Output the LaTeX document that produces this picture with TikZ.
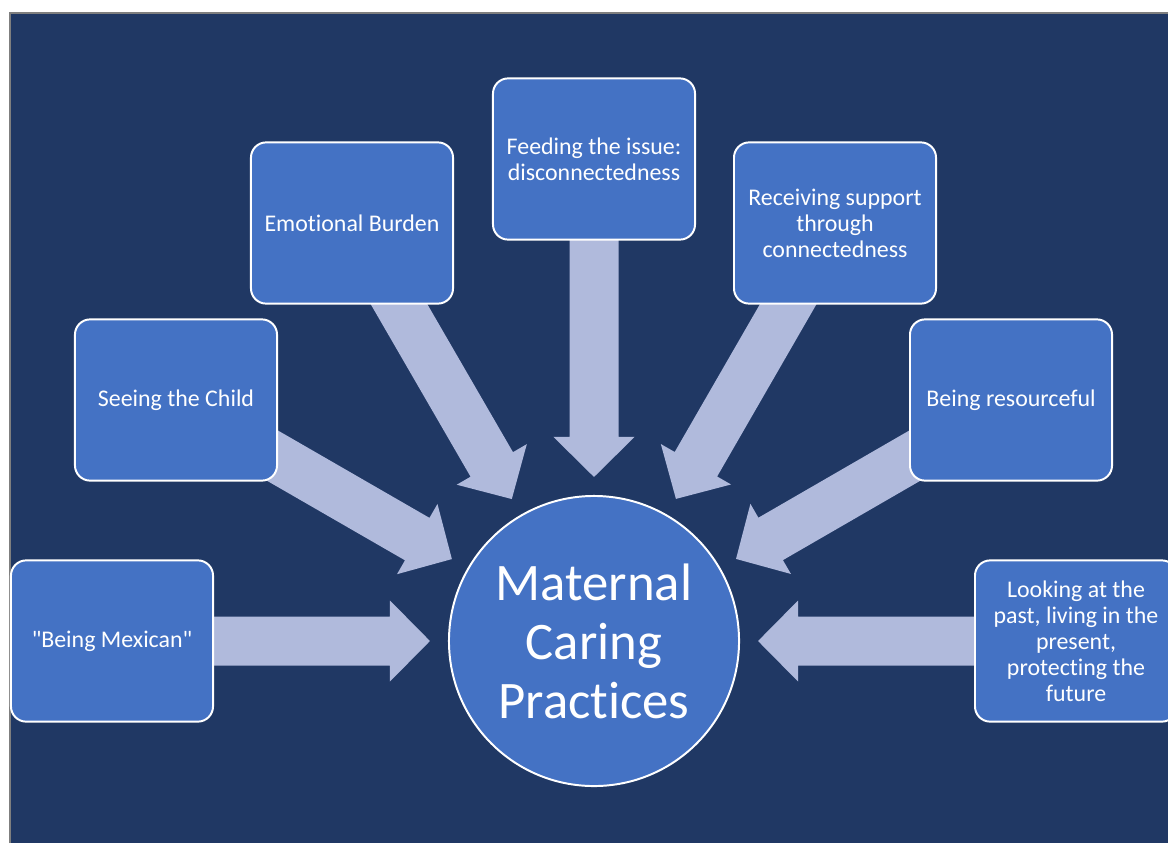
\documentclass[tikz,border=0pt]{standalone}
\usepackage{fontspec}
\setmainfont{Carlito}[Ligatures={NoCommon}]
\usetikzlibrary{calc,backgrounds}

\definecolor{slide}{HTML}{203864}
\definecolor{boxblue}{HTML}{4472C4}
\definecolor{pale}{HTML}{B0BADC}
\definecolor{rim}{HTML}{7F7F7F}

\begin{document}
\begin{tikzpicture}[x=0.025cm,y=-0.025cm,
    topic/.style={draw=white,line width=1.4pt,fill=boxblue,rounded corners=0.38cm,
        minimum width=5.05cm,minimum height=4.03cm,align=center,text=white,
        font=\fontsize{17}{18.5}\selectfont},
    hub/.style={circle,draw=white,line width=1.4pt,fill=boxblue,minimum size=7.25cm,
        align=center,text=white,font=\fontsize{37.5}{42}\selectfont},
    feeder/.style={fill=pale}]
    \useasboundingbox (0,0) rectangle (1168,843);
    \clip (0,0) rectangle (1168,843);
    \node[hub] (mcp) at (594,641) {Maternal\\Caring\\Practices};
    \node[topic] (mex) at (112,641) {\textquotedbl Being Mexican\textquotedbl};
    \node[topic] (child) at (176,400) {Seeing the Child};
    \node[topic] (burden) at (352,223) {Emotional Burden};
    \node[topic] (feed) at (594,159) {Feeding the issue:\\disconnectedness};
    \node[topic] (recv) at (835,223) {Receiving support\\through\\connectedness};
    \node[topic] (resrc) at (1011,400) {Being resourceful};
    \node[topic] (past) at (1076,641) {Looking at the\\past, living in the\\present,\\protecting the\\future};
    \begin{scope}[on background layer]
        \fill[slide] (11,14) rectangle (1168,843);
        \draw[rim,line width=1.4pt] (10,843) -- (10,13) -- (1168,13);
        \foreach \b in {mex,child,burden,feed,recv,resrc,past} {
            \coordinate (tip) at ($(mcp.center)!4.1cm!(\b.center)$);
            \coordinate (neck) at ($(tip)!1cm!(\b.center)$);
            \fill[feeder] ($(\b.center)!0.6125cm!-90:(tip)$)
                -- ($(neck)!0.6125cm!90:(\b.center)$)
                -- ($(neck)!1.0125cm!90:(\b.center)$)
                -- (tip)
                -- ($(neck)!1.0125cm!-90:(\b.center)$)
                -- ($(neck)!0.6125cm!-90:(\b.center)$)
                -- ($(\b.center)!0.6125cm!90:(tip)$) -- cycle;
        }
    \end{scope}
\end{tikzpicture}
\end{document}
